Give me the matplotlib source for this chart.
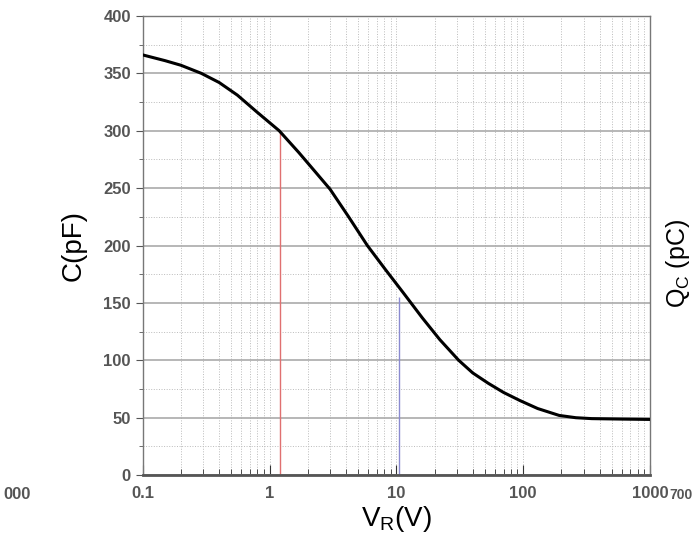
# -*- coding: utf-8 -*-

"""Junction capacitance vs reverse voltage."""

import matplotlib

matplotlib.use("Agg")
import matplotlib.pyplot as plt
from matplotlib.ticker import FixedLocator, LogLocator, NullFormatter

# values
v_reverse = [0.1, 0.15, 0.2, 0.289, 0.4, 0.557, 0.8, 1.19, 1.7, 2.3, 3.0, 4.2, 5.9, 8.2,
             11.3, 16, 22, 31, 40, 53, 70, 94, 130, 192, 260, 348, 600, 1000]
capacitance = [366, 361, 357, 350, 342, 331, 316, 300, 281, 264, 249, 225, 200, 179,
               159, 137, 118, 100, 89, 80, 72, 65, 58, 52, 50, 49.2, 48.8, 48.5]

x_ticks = [0.1, 1, 10, 100, 1000]
x_tick_labels = ["0.1", "1", "10", "100", "1000"]
y_ticks = [0, 50, 100, 150, 200, 250, 300, 350, 400]

# marker lines dropped from the curve to the axis
marker_v = [1.2, 10.5]
marker_c = [300, 155]
marker_colors = ["#e07070", "#8a8ad0"]

plt.rcParams["font.family"] = ["Liberation Sans", "DejaVu Sans"]

fig = plt.figure(figsize=(6.93, 5.48), dpi=100)
ax = fig.add_axes([0.206, 0.133, 0.732, 0.838])

ax.set_xscale("log")
ax.set_xlim(0.1, 1000)
ax.set_ylim(0, 400)

ax.xaxis.set_major_locator(FixedLocator(x_ticks))
ax.set_xticklabels(x_tick_labels)
ax.xaxis.set_minor_locator(LogLocator(base=10, subs=range(2, 10)))
ax.xaxis.set_minor_formatter(NullFormatter())
ax.yaxis.set_major_locator(FixedLocator(y_ticks))
ax.yaxis.set_minor_locator(FixedLocator([25, 75, 125, 175, 225, 275, 325, 375]))

ax.grid(which="major", axis="y", color="#aaaaaa", linewidth=1.2)
ax.grid(which="minor", axis="y", color="#bbbbbb", linewidth=0.7, linestyle=":")
ax.grid(which="both", axis="x", color="#bbbbbb", linewidth=0.7, linestyle=":")

for v, c, color in zip(marker_v, marker_c, marker_colors):
    ax.vlines(v, 0, c, color=color, linewidth=1.0, zorder=2)

ax.plot(v_reverse, capacitance, color="black", linewidth=2.2, solid_capstyle="round",
        solid_joinstyle="round", zorder=3)

ax.tick_params(axis="y", which="major", direction="out", length=5, color="#555555",
               labelsize=12, labelcolor="#555555")
ax.tick_params(axis="y", which="minor", direction="out", length=3, color="#555555")
ax.tick_params(axis="x", which="major", direction="in", length=7, color="#333333",
               labelsize=12, labelcolor="#555555", pad=8)
ax.tick_params(axis="x", which="minor", direction="in", length=4, color="#333333")
for label in ax.get_xticklabels() + ax.get_yticklabels():
    label.set_fontweight("bold")

for side in ["left", "right", "top"]:
    ax.spines[side].set_color("#777777")
    ax.spines[side].set_linewidth(1.0)
ax.spines["bottom"].set_color("#555555")
ax.spines["bottom"].set_linewidth(2.0)

ax.set_ylabel("C(pF)", fontsize=20, labelpad=12)
ax.set_xlabel(r"V$_\mathregular{R}$(V)", fontsize=20, labelpad=2)

# fragments of neighbouring charts visible at the edges
fig.text(0.005, 0.09, "000", fontsize=12, color="#555555", fontweight="bold", ha="left")
fig.text(0.999, 0.09, "700", fontsize=10, color="#555555", fontweight="bold", ha="right")
fig.text(0.978, 0.52, r"Q$_\mathregular{C}$ (pC)", fontsize=18, rotation=90, ha="center", va="center")

fig.savefig("out.png")
plt.close(fig)
